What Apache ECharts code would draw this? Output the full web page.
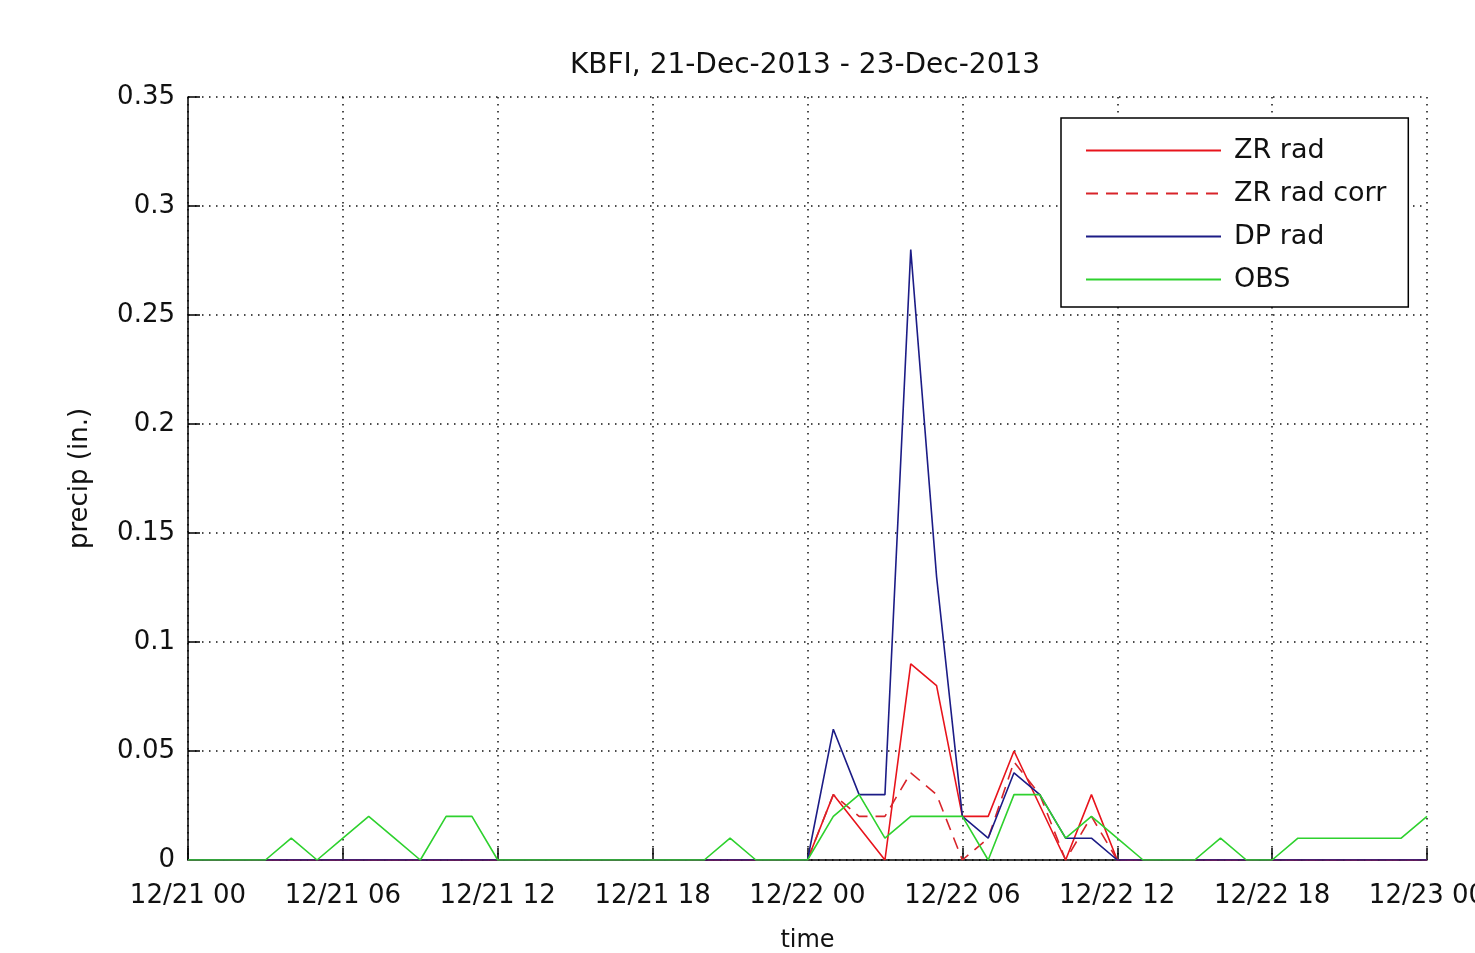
<!DOCTYPE html>
<html>
<head>
<meta charset="utf-8">
<script src="https://cdn.jsdelivr.net/npm/echarts@6/dist/echarts.min.js"></script>
<style>html,body{margin:0;padding:0;background:#fff;}#c{width:1475px;height:953px;}</style>
</head>
<body>
<div id="c"></div>
<script>
// hours since 12/21 00 (hourly samples)
const hours = [0,1,2,3,4,5,6,7,8,9,10,11,12,13,14,15,16,17,18,19,20,21,22,23,24,25,26,27,28,29,30,31,32,33,34,35,36,37,38,39,40,41,42,43,44,45,46,47,48];
const tickLabels = ['12/21 00','12/21 06','12/21 12','12/21 18','12/22 00','12/22 06','12/22 12','12/22 18','12/23 00'];
const zrRad     = [0,0,0,0,0,0,0,0,0,0,0,0,0,0,0,0,0,0,0,0,0,0,0,0, 0,0.03,0.015,0,0.09,0.08,0.02,0.02,0.05,0.025,0,0.03,0, 0,0,0,0,0,0,0,0,0,0,0,0];
const zrRadCorr = [0,0,0,0,0,0,0,0,0,0,0,0,0,0,0,0,0,0,0,0,0,0,0,0, 0,0.03,0.02,0.02,0.04,0.03,0,0.01,0.045,0.03,0,0.02,0, 0,0,0,0,0,0,0,0,0,0,0,0];
const dpRad     = [0,0,0,0,0,0,0,0,0,0,0,0,0,0,0,0,0,0,0,0,0,0,0,0, 0,0.06,0.03,0.03,0.28,0.13,0.02,0.01,0.04,0.03,0.01,0.01,0, 0,0,0,0,0,0,0,0,0,0,0,0];
const obs       = [0,0,0,0,0.01,0,0.01,0.02,0.01,0,0.02,0.02,0,0,0,0,0,0,0,0,0,0.01,0,0, 0,0.02,0.03,0.01,0.02,0.02,0.02,0,0.03,0.03,0.01,0.02,0.01, 0,0,0,0.01,0,0,0.01,0.01,0.01,0.01,0.01,0.02];

const pair = arr => arr.map((v, i) => [hours[i], v]);
const FONT = 'DejaVu Sans, sans-serif';
const chart = echarts.init(document.getElementById('c'), null, {renderer: 'canvas'});
const dotted = {color: '#111', width: 1.5, type: [1.5, 5.5]};
const legendNames = ['ZR rad', 'ZR rad corr', 'DP rad', 'OBS'];
chart.setOption({
  backgroundColor: '#fff',
  animation: false,
  title: {
    text: 'KBFI, 21-Dec-2013 - 23-Dec-2013',
    left: 800, top: 47, textAlign: 'center',
    textStyle: {fontFamily: FONT, fontSize: 28, fontWeight: 'normal', color: '#111'}
  },
  legend: {
    orient: 'vertical', left: 1061, top: 118,
    backgroundColor: '#fff', borderColor: '#000', borderWidth: 1.5,
    padding: [19, 22, 14, 24],
    itemWidth: 135, itemHeight: 14, itemGap: 16,
    itemStyle: {opacity: 0},
    textStyle: {fontFamily: FONT, fontSize: 27, color: '#111', padding: [0, 0, 0, 8]},
    data: legendNames
  },
  grid: {left: 188, top: 97, width: 1239, height: 763, containLabel: false, outerBoundsMode: 'none'},
  xAxis: {
    type: 'value', min: 0, max: 48, interval: 6,
    name: 'time', nameLocation: 'middle', nameGap: 69,
    nameTextStyle: {fontFamily: FONT, fontSize: 24, color: '#111'},
    axisLine: {show: true, lineStyle: {color: '#000', width: 1.5}},
    axisTick: {show: true, inside: true, length: 12, lineStyle: {color: '#000', width: 1.5}},
    axisLabel: {fontFamily: FONT, fontSize: 26, color: '#111', margin: 23,
      formatter: v => tickLabels[Math.round(v / 6)]},
    splitLine: {show: true, lineStyle: dotted}
  },
  yAxis: {
    type: 'value', min: 0, max: 0.35, interval: 0.05,
    name: 'precip (in.)', nameLocation: 'middle', nameGap: 95, nameRotate: 90,
    nameTextStyle: {fontFamily: FONT, fontSize: 26, color: '#111'},
    axisLine: {show: true, lineStyle: {color: '#000', width: 1.5}},
    axisTick: {show: true, inside: true, length: 12, lineStyle: {color: '#000', width: 1.5}},
    axisLabel: {fontFamily: FONT, fontSize: 26, color: '#111', margin: 13,
      formatter: v => String(+v.toFixed(2))},
    splitLine: {show: true, lineStyle: dotted}
  },
  series: [
    {name: legendNames[0], type: 'line', data: pair(zrRad), symbol: 'none', z: 3,
      lineStyle: {color: '#e8141c', width: 1.6}, itemStyle: {color: '#e8141c'}},
    {name: legendNames[1], type: 'line', data: pair(zrRadCorr), symbol: 'none', z: 4,
      lineStyle: {color: '#d8242a', width: 1.6, type: [12, 8]}, itemStyle: {color: '#d8242a'}},
    {name: legendNames[2], type: 'line', data: pair(dpRad), symbol: 'none', z: 5,
      lineStyle: {color: '#1c1c86', width: 1.6}, itemStyle: {color: '#1c1c86'}},
    {name: legendNames[3], type: 'line', data: pair(obs), symbol: 'none', z: 6,
      lineStyle: {color: '#2ed12e', width: 1.6}, itemStyle: {color: '#2ed12e'}}
  ]
});
</script>
</body>
</html>
